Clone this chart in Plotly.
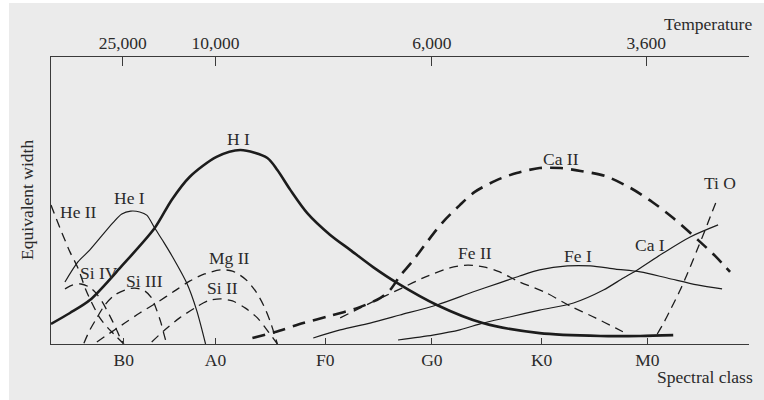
import plotly.graph_objects as go

# ---------------- data ----------------
CLASS_LABELS = ["B0", "A0", "F0", "G0", "K0", "M0"]
CLASS_POS = [0.73, 1.65, 2.75, 3.82, 4.92, 5.98]
TEMP_LABELS = ["25,000", "10,000", "6,000", "3,600"]
TEMP_POS = [0.72, 1.65, 3.82, 5.97]

HI_x = [0.00, 0.19, 0.39, 0.71, 1.04, 1.21, 1.39, 1.66, 1.90, 2.17, 2.27, 2.40, 2.57, 2.80, 3.00, 3.23, 3.47, 3.87, 4.33, 4.90, 5.51, 5.91, 6.24]
HI_y = [7.0, 10.8, 15.3, 27.2, 40.4, 50.2, 58.2, 65.2, 67.6, 64.8, 60.6, 53.7, 45.6, 38.0, 32.8, 26.8, 21.3, 13.6, 7.3, 3.8, 2.8, 2.8, 3.1]

HeI_x = [0.14, 0.27, 0.39, 0.62, 0.71, 0.80, 0.89, 0.96, 1.04, 1.13, 1.22, 1.36, 1.46, 1.55]
HeI_y = [21.6, 28.6, 32.8, 42.2, 45.3, 46.3, 46.0, 44.9, 40.4, 35.5, 30.3, 21.3, 11.8, 0.0]

HeII_x = [0.00, 0.09, 0.19, 0.27, 0.35, 0.41, 0.49, 0.57, 0.65, 0.73]
HeII_y = [48.4, 40.4, 32.1, 26.5, 18.8, 14.3, 9.1, 5.6, 2.8, 0.0]

SiIV_x = [0.14, 0.22, 0.30, 0.38, 0.45, 0.52, 0.59, 0.65, 0.69, 0.73]
SiIV_y = [19.2, 20.6, 20.9, 19.9, 17.8, 14.3, 9.8, 5.6, 2.4, 0.0]

SiIII_x = [0.33, 0.39, 0.46, 0.54, 0.64, 0.74, 0.84, 0.94, 1.01, 1.06, 1.10, 1.13, 1.16]
SiIII_y = [0.3, 4.9, 9.1, 13.6, 17.1, 18.8, 19.5, 18.5, 16.0, 11.8, 7.7, 3.8, 0.0]

MgII_x = [0.46, 0.59, 0.74, 0.89, 1.07, 1.24, 1.39, 1.54, 1.70, 1.82, 1.95, 2.05, 2.13, 2.20, 2.27]
MgII_y = [0.7, 3.8, 7.3, 10.8, 14.6, 18.5, 21.9, 24.4, 25.8, 25.4, 22.6, 18.5, 13.6, 7.7, 0.0]

SiII_x = [1.01, 1.14, 1.29, 1.44, 1.57, 1.70, 1.82, 1.95, 2.07, 2.15, 2.22, 2.27]
SiII_y = [0.7, 4.9, 9.1, 12.5, 15.0, 15.7, 15.0, 12.5, 9.1, 5.6, 2.4, 0.0]

CaII_x = [2.02, 2.25, 2.53, 2.80, 3.07, 3.30, 3.40, 3.50, 3.62, 3.77, 3.93, 4.10, 4.25, 4.47, 4.67, 4.90, 5.11, 5.31, 5.56, 5.81, 6.03, 6.24, 6.49, 6.66, 6.81]
CaII_y = [2.1, 4.2, 7.3, 9.8, 12.5, 16.0, 18.8, 23.7, 28.6, 35.5, 42.5, 48.4, 53.0, 57.1, 59.6, 61.3, 61.3, 60.3, 58.5, 54.4, 49.5, 43.9, 36.2, 30.7, 25.1]

FeII_x = [2.90, 3.22, 3.52, 3.75, 4.00, 4.18, 4.35, 4.50, 4.70, 4.95, 5.21, 5.46, 5.66, 5.78]
FeII_y = [9.1, 14.6, 19.5, 23.3, 26.5, 27.5, 26.8, 25.1, 21.6, 18.1, 13.2, 9.1, 5.6, 3.5]

FeI_x = [2.63, 2.90, 3.20, 3.50, 3.87, 4.23, 4.50, 4.70, 4.90, 5.18, 5.41, 5.66, 5.91, 6.18, 6.48, 6.73]
FeI_y = [2.1, 4.9, 7.3, 10.1, 13.6, 18.1, 21.3, 23.7, 25.8, 27.2, 27.2, 26.1, 25.1, 23.0, 20.6, 19.2]

CaI_x = [3.48, 3.83, 4.10, 4.33, 4.60, 4.90, 5.24, 5.54, 5.74, 5.88, 6.14, 6.41, 6.69]
CaI_y = [1.4, 3.1, 4.9, 7.3, 9.4, 11.8, 14.3, 18.8, 23.0, 25.8, 31.7, 37.3, 41.5]

TiO_x = [6.08, 6.15, 6.21, 6.31, 6.41, 6.48, 6.56, 6.63, 6.69]
TiO_y = [3.5, 7.7, 11.8, 18.8, 26.8, 32.8, 39.7, 46.0, 51.2]

LABELS = ["H I", "He I", "He II", "Si IV", "Si III", "Mg II", "Si II", "Ca II", "Ti O", "Fe II", "Fe I", "Ca I"]
LABEL_X = [1.88, 0.79, 0.28, 0.48, 0.94, 1.79, 1.72, 5.11, 6.71, 4.25, 5.29, 6.01]
LABEL_Y = [71.4, 50.9, 46.0, 24.7, 21.9, 30.0, 19.5, 64.5, 56.1, 31.7, 30.7, 34.5]

# ---------------- styling ----------------
INK = "#1c1c1c"
TXT = "#2a2a2a"
BG = "#ebebeb"
FONT = "Liberation Serif"
FS = 17.5

THICK = dict(color=INK, width=2.6, shape="spline", smoothing=0.8)
THIN = dict(color=INK, width=1.2, shape="spline", smoothing=0.8)
THIN_DASH = dict(color=INK, width=1.3, shape="spline", smoothing=0.8, dash="9px,6px")
THICK_DASH = dict(color=INK, width=2.6, shape="spline", smoothing=0.8, dash="13px,8px")

series = [
    (HI_x, HI_y, THICK),
    (HeI_x, HeI_y, THIN),
    (HeII_x, HeII_y, THIN_DASH),
    (SiIV_x, SiIV_y, THIN_DASH),
    (SiIII_x, SiIII_y, THIN_DASH),
    (MgII_x, MgII_y, THIN_DASH),
    (SiII_x, SiII_y, THIN_DASH),
    (CaII_x, CaII_y, THICK_DASH),
    (FeII_x, FeII_y, THIN_DASH),
    (FeI_x, FeI_y, THIN),
    (CaI_x, CaI_y, THIN),
    (TiO_x, TiO_y, THIN_DASH),
]

fig = go.Figure()
for xs, ys, ln in series:
    fig.add_trace(go.Scatter(x=xs, y=ys, mode="lines", line=ln,
                             showlegend=False, hoverinfo="skip"))

# invisible trace so the top (temperature) axis is drawn
fig.add_trace(go.Scatter(x=TEMP_POS, y=[None] * len(TEMP_POS), xaxis="x2",
                         mode="lines", showlegend=False, hoverinfo="skip"))

for t, x, y in zip(LABELS, LABEL_X, LABEL_Y):
    fig.add_annotation(x=x, y=y, text=t, showarrow=False, xanchor="center", yanchor="middle",
                       font=dict(family=FONT, size=FS, color=TXT))

fig.add_annotation(xref="paper", yref="paper", x=0.941, y=1.115, text="Temperature",
                   xanchor="center", yanchor="middle",
                   showarrow=False, font=dict(family=FONT, size=FS, color=TXT))
fig.add_annotation(xref="paper", yref="paper", x=0.937, y=-0.115, text="Spectral class",
                   xanchor="center", yanchor="middle",
                   showarrow=False, font=dict(family=FONT, size=FS, color=TXT))
fig.add_annotation(xref="paper", yref="paper", x=-0.0344, y=0.502, text="Equivalent width",
                   xanchor="center", yanchor="middle",
                   textangle=-90, showarrow=False, font=dict(family=FONT, size=FS, color=TXT))

axis_common = dict(showgrid=False, zeroline=False, showline=True, linecolor="#3a3a3a",
                   linewidth=1.3, ticks="inside", tickcolor="#3a3a3a", tickwidth=1.2,
                   range=[0, 7], tickfont=dict(family=FONT, size=FS, color=TXT))

fig.update_layout(
    width=764, height=400,
    margin=dict(l=42, r=24, t=54, b=59),
    paper_bgcolor=BG, plot_bgcolor=BG,
    xaxis=dict(**axis_common, tickvals=CLASS_POS, ticktext=CLASS_LABELS, ticklen=6,
               ticklabelstandoff=0),
    xaxis2=dict(**axis_common, tickvals=TEMP_POS, ticktext=TEMP_LABELS, ticklen=9,
                overlaying="x", side="top", anchor="y"),
    yaxis=dict(range=[0, 100], showgrid=False, zeroline=False, showline=True,
               linecolor="#3a3a3a", linewidth=1.3, showticklabels=False, ticks=""),
)

fig.write_html(
    "out.html",
    post_script="document.body.style.margin='3px 0 0 9px';document.body.style.overflow='hidden';",
)
